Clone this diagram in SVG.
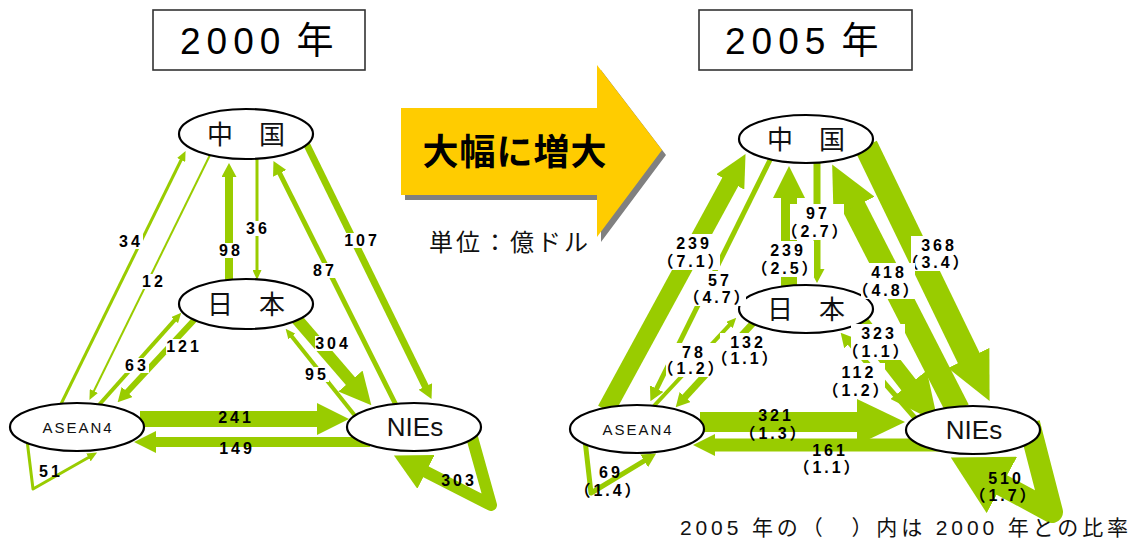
<svg xmlns="http://www.w3.org/2000/svg" width="1141" height="540" viewBox="0 0 1141 540">
<style>
.c{fill:none;stroke:#99cc00;stroke-linejoin:round}
.n ellipse{fill:#fff;stroke:#000;stroke-width:2.2}
.nt{font-family:"Noto Sans CJK JP",sans-serif;font-size:26px;text-anchor:middle;fill:#111}
.lt{font-family:"Liberation Sans","Noto Sans CJK JP",sans-serif;text-anchor:middle;fill:#111}
.lbl{font-family:"Liberation Sans","Noto Sans CJK JP",sans-serif;font-size:16px;font-weight:bold;letter-spacing:3px;text-anchor:middle;fill:#000}
.bx{fill:#fff}
.tb{fill:#fff;stroke:#333;stroke-width:1.6}
.tt{font-family:"Liberation Sans","Noto Sans CJK JP",sans-serif;font-size:37px;letter-spacing:6px;word-spacing:-6px;fill:#000}
</style>
<defs>
<marker id="hS" markerUnits="userSpaceOnUse" viewBox="0 0 10 9" markerWidth="10" markerHeight="9" refX="1" refY="4.5" orient="auto"><path d="M0,0L10,4.5L0,9z" fill="#99cc00"/></marker>
<marker id="hM" markerUnits="userSpaceOnUse" viewBox="0 0 14 15" markerWidth="14" markerHeight="15" refX="1" refY="7.5" orient="auto"><path d="M0,0L14,7.5L0,15z" fill="#99cc00"/></marker>
<marker id="hH" markerUnits="userSpaceOnUse" viewBox="0 0 22 22" markerWidth="22" markerHeight="22" refX="1" refY="11" orient="auto"><path d="M0,0L22,11L0,22z" fill="#99cc00"/></marker>
<marker id="hL" markerUnits="userSpaceOnUse" viewBox="0 0 32 32" markerWidth="32" markerHeight="32" refX="1" refY="16" orient="auto"><path d="M0,0L32,16L0,32z" fill="#99cc00"/></marker>
<marker id="hX" markerUnits="userSpaceOnUse" viewBox="0 0 48 46" markerWidth="48" markerHeight="46" refX="1" refY="23" orient="auto"><path d="M0,0L48,23L0,46z" fill="#99cc00"/></marker>
<marker id="hLp" markerUnits="userSpaceOnUse" viewBox="0 0 36 38" markerWidth="36" markerHeight="38" refX="1" refY="19" orient="auto"><path d="M0,0L36,19L0,38z" fill="#99cc00"/></marker>
<marker id="hBg" markerUnits="userSpaceOnUse" viewBox="0 0 58 64" markerWidth="58" markerHeight="64" refX="1" refY="32" orient="auto"><path d="M0,0L58,32L0,64z" fill="#99cc00"/></marker>
</defs>
<rect width="1141" height="540" fill="#fff"/>

<!-- titles -->
<g id="title2000"><rect class="tb" x="153" y="10" width="212" height="60"/><text class="tt" x="180" y="54">2000 年</text></g>
<g id="title2005"><rect class="tb" x="699" y="10" width="213" height="60"/><text class="tt" x="725" y="54">2005 年</text></g>

<!-- central block arrow -->
<g id="bigArrow">
<polygon points="405,113 601,113 601,70 666,155 601,242 601,200 405,200" fill="#808080"/>
<polygon points="401,108 597,108 597,65 662,150 597,237 597,195 401,195" fill="#ffcc00"/>
<text x="515" y="165" style="font-family:'Noto Sans CJK JP',sans-serif;font-size:36px;font-weight:bold;letter-spacing:1px;text-anchor:middle;fill:#000">大幅に増大</text>
</g>
<text x="429" y="251" style="font-family:'Noto Sans CJK JP',sans-serif;font-size:24px;letter-spacing:3px;fill:#111">単位：億ドル</text>

<!-- connectors -->
<g id="connectors">
<!-- 2000 -->
<path class="c" d="M59.8,406.5L181.6,159" stroke-width="3" marker-end="url(#hS)"/>
<path class="c" d="M210.5,154L93.4,392" stroke-width="2" marker-end="url(#hS)"/>
<path class="c" d="M229,284L229,176" stroke-width="8" marker-end="url(#hM)"/>
<path class="c" d="M257,157L257,271" stroke-width="3" marker-end="url(#hS)"/>
<path class="c" d="M397,407L279.3,172.5" stroke-width="5" marker-end="url(#hM)"/>
<path class="c" d="M306,143L425.8,387.4" stroke-width="7" marker-end="url(#hM)"/>
<path class="c" d="M98,406L175.3,319.4" stroke-width="4" marker-end="url(#hS)"/>
<path class="c" d="M196,318L126.5,392.7" stroke-width="6" marker-end="url(#hM)"/>
<path class="c" d="M296,318L351.1,381.8" stroke-width="12" marker-end="url(#hL)"/>
<path class="c" d="M356,417L291.25,335.8" stroke-width="4" marker-end="url(#hS)"/>
<path class="c" d="M140,419L318,419" stroke-width="16" marker-end="url(#hL)"/>
<path class="c" d="M370,442L155,442" stroke-width="10" marker-end="url(#hH)"/>
<path class="c" d="M27,440L33,489L89.3,457" stroke-width="3" marker-end="url(#hS)"/>
<path class="c" d="M470,430L491,505L425.1,471.4" stroke-width="12" marker-end="url(#hLp)"/>
<!-- 2005 -->
<path class="c" d="M606,410L730.7,181.1" stroke-width="18" marker-end="url(#hL)"/>
<path class="c" d="M770.5,159L656.2,389.5" stroke-width="5" marker-end="url(#hM)"/>
<path class="c" d="M789,290L789,197" stroke-width="16" marker-end="url(#hL)"/>
<path class="c" d="M817,160L817,270" stroke-width="7" marker-end="url(#hM)"/>
<path class="c" d="M866,146L969.1,358.8" stroke-width="24" marker-end="url(#hX)"/>
<path class="c" d="M958,410L853.6,206.3" stroke-width="24" marker-end="url(#hX)"/>
<path class="c" d="M858,320L909.2,385.6" stroke-width="18" marker-end="url(#hX)"/>
<path class="c" d="M915,418L849.2,342.5" stroke-width="5" marker-end="url(#hM)"/>
<path class="c" d="M653,407L730.1,324.3" stroke-width="4" marker-end="url(#hS)"/>
<path class="c" d="M754,322L684.5,397.7" stroke-width="7" marker-end="url(#hM)"/>
<path class="c" d="M700,422L858,422" stroke-width="20" marker-end="url(#hX)"/>
<path class="c" d="M945,445L714,445" stroke-width="13" marker-end="url(#hH)"/>
<path class="c" d="M585,440L591,493L645,460.3" stroke-width="5" marker-end="url(#hM)"/>
<path class="c" d="M1029,423L1052,512L1001,484.5" stroke-width="22" marker-end="url(#hBg)"/>
</g>

<!-- nodes 2000 -->
<g id="china2000" class="n"><ellipse cx="246" cy="134" rx="67" ry="25"/><text class="nt" x="246" y="144">中　国</text></g>
<g id="japan2000" class="n"><ellipse cx="246" cy="304" rx="67" ry="25"/><text class="nt" x="246" y="314">日　本</text></g>
<g id="asean2000" class="n"><ellipse cx="77" cy="427" rx="67" ry="24"/><text class="lt" x="78" y="433" style="font-size:15px;letter-spacing:2px">ASEAN4</text></g>
<g id="nies2000" class="n"><ellipse cx="414" cy="427" rx="67" ry="24"/><text class="lt" x="415" y="436" style="font-size:26px">NIEs</text></g>
<!-- nodes 2005 -->
<g id="china2005" class="n"><ellipse cx="806" cy="139" rx="67" ry="24"/><text class="nt" x="806" y="149">中　国</text></g>
<g id="japan2005" class="n"><ellipse cx="806" cy="309" rx="67" ry="24"/><text class="nt" x="806" y="319">日　本</text></g>
<g id="asean2005" class="n"><ellipse cx="637" cy="429" rx="67" ry="24"/><text class="lt" x="638" y="435" style="font-size:15px;letter-spacing:2px">ASEAN4</text></g>
<g id="nies2005" class="n"><ellipse cx="973" cy="430" rx="67" ry="24"/><text class="lt" x="974" y="439" style="font-size:26px">NIEs</text></g>

<!-- labels 2000 -->
<g id="labels2000">
<rect class="bx" x="118" y="234" width="25" height="15"/><text class="lbl" x="131" y="247">34</text>
<rect class="bx" x="141" y="274" width="25" height="15"/><text class="lbl" x="154" y="287">12</text>
<rect class="bx" x="218" y="243" width="25" height="15"/><text class="lbl" x="231" y="256">98</text>
<rect class="bx" x="245" y="221" width="25" height="15"/><text class="lbl" x="258" y="234">36</text>
<rect class="bx" x="312" y="263" width="25" height="15"/><text class="lbl" x="325" y="276">87</text>
<rect class="bx" x="344" y="233" width="35" height="15"/><text class="lbl" x="362" y="246">107</text>
<rect class="bx" x="124" y="358" width="25" height="15"/><text class="lbl" x="137" y="371">63</text>
<rect class="bx" x="166" y="339" width="35" height="15"/><text class="lbl" x="184" y="352">121</text>
<rect class="bx" x="315" y="336" width="35" height="15"/><text class="lbl" x="333" y="349">304</text>
<rect class="bx" x="304" y="367" width="25" height="15"/><text class="lbl" x="317" y="380">95</text>
<text class="lbl" x="236" y="423">241</text>
<text class="lbl" x="237" y="454">149</text>
<text class="lbl" x="51" y="477">51</text>
<text class="lbl" x="459" y="486">303</text>
</g>

<!-- labels 2005 -->
<g id="labels2005">
<rect class="bx" x="666" y="234" width="54" height="36"/><text class="lbl" x="694" y="249">239</text><text class="lbl" x="692" y="267">（7.1）</text>
<rect class="bx" x="692" y="271" width="54" height="35"/><text class="lbl" x="720" y="286">57</text><text class="lbl" x="718" y="303">（4.7）</text>
<rect class="bx" x="790" y="204" width="54" height="36"/><text class="lbl" x="818" y="219">97</text><text class="lbl" x="816" y="237">（2.7）</text>
<rect class="bx" x="760" y="241" width="54" height="36"/><text class="lbl" x="788" y="256">239</text><text class="lbl" x="786" y="274">（2.5）</text>
<rect class="bx" x="911" y="236" width="54" height="35"/><text class="lbl" x="939" y="251">368</text><text class="lbl" x="937" y="268">（3.4）</text>
<rect class="bx" x="861" y="263" width="54" height="36"/><text class="lbl" x="889" y="278">418</text><text class="lbl" x="887" y="296">（4.8）</text>
<rect class="bx" x="851" y="324" width="54" height="36"/><text class="lbl" x="879" y="339">323</text><text class="lbl" x="877" y="357">（1.1）</text>
<rect class="bx" x="831" y="363" width="54" height="36"/><text class="lbl" x="859" y="378">112</text><text class="lbl" x="857" y="396">（1.2）</text>
<rect class="bx" x="666" y="343" width="54" height="34"/><text class="lbl" x="694" y="358">78</text><text class="lbl" x="692" y="374">（1.2）</text>
<rect class="bx" x="720" y="333" width="54" height="34"/><text class="lbl" x="748" y="348">132</text><text class="lbl" x="746" y="364">（1.1）</text>
<text class="lbl" x="776" y="421">321</text><text class="lbl" x="774" y="439">（1.3）</text>
<text class="lbl" x="830" y="456">161</text><text class="lbl" x="828" y="473">（1.1）</text>
<text class="lbl" x="611" y="478">69</text><text class="lbl" x="609" y="496">（1.4）</text>
<text class="lbl" x="1006" y="484">510</text><text class="lbl" x="1004" y="501">（1.7）</text>
</g>

<text x="680" y="535" textLength="448" lengthAdjust="spacing" style="font-family:'Liberation Sans','Noto Sans CJK JP',sans-serif;font-size:21px;fill:#111">2005 年の（　）内は 2000 年との比率</text>
</svg>
